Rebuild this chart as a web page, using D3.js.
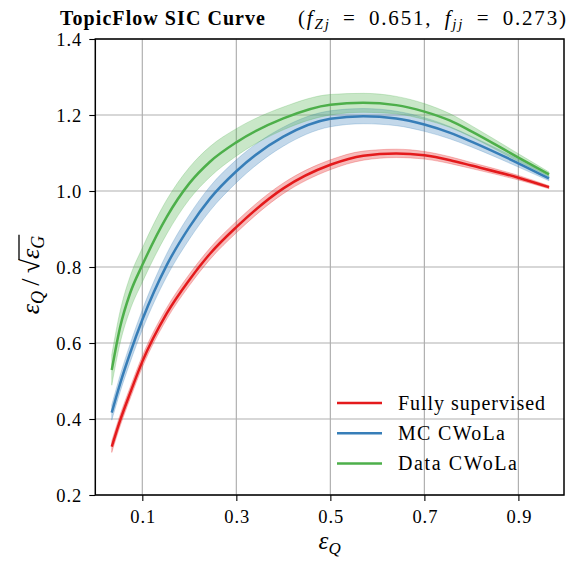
<!DOCTYPE html>
<html>
<head>
<meta charset="utf-8">
<script src="https://cdn.jsdelivr.net/npm/d3@7"></script>
<style>
  body { margin: 0; background: #fff; }
</style>
</head>
<body>
<div id="chart"></div>
<script>
// efficiency points
const effQ = [0.035, 0.053, 0.074, 0.1, 0.152, 0.2, 0.244, 0.3, 0.4, 0.5, 0.57, 0.64, 0.7, 0.755, 0.8, 0.9, 0.965];

const fullySup = [0.327, 0.397, 0.468, 0.551, 0.678, 0.766, 0.835, 0.905, 1.007, 1.069, 1.093, 1.099, 1.094, 1.081, 1.067, 1.035, 1.010];
const fullySupErr = [0.015, 0.015, 0.015, 0.015, 0.015, 0.015, 0.015, 0.015, 0.014, 0.013, 0.012, 0.011, 0.010, 0.009, 0.008, 0.006, 0.004];

const mcCwola = [0.417, 0.494, 0.573, 0.661, 0.805, 0.905, 0.980, 1.052, 1.143, 1.190, 1.197, 1.191, 1.175, 1.153, 1.130, 1.073, 1.033];
const mcCwolaErr = [0.02, 0.022, 0.024, 0.026, 0.03, 0.032, 0.032, 0.03, 0.025, 0.021, 0.02, 0.019, 0.018, 0.016, 0.014, 0.01, 0.006];

const dataCwola = [0.529, 0.643, 0.731, 0.805, 0.932, 1.020, 1.077, 1.128, 1.191, 1.227, 1.232, 1.226, 1.209, 1.185, 1.157, 1.088, 1.044];
const dataCwolaErr = [0.04, 0.042, 0.044, 0.045, 0.045, 0.042, 0.04, 0.036, 0.03, 0.027, 0.025, 0.023, 0.021, 0.018, 0.015, 0.01, 0.006];

const seriesNames = ["Fully supervised", "MC CWoLa", "Data CWoLa"];
const legendWidths = [147, 107, 119];
const colors = ["#e41a1c", "#377eb8", "#4daf4a"];

const xTicks = [0.1, 0.3, 0.5, 0.7, 0.9];
const yTicks = [0.2, 0.4, 0.6, 0.8, 1.0, 1.2, 1.4];

const serif = "'Liberation Serif', 'Times New Roman', Times, serif";

const W = 569, H = 564;
const pl = 95.3, pr = 564, pt = 39, pb = 495; // plot box edges

const svg = d3.select("#chart").append("svg")
    .attr("width", W)
    .attr("height", H)
    .attr("font-family", serif);

const x = d3.scaleLinear().domain([0, 0.997]).range([pl, pr]);
const y = d3.scaleLinear().domain([0.2, 1.4]).range([pb, pt]);

// grid
svg.append("g")
    .selectAll("line")
    .data(xTicks)
    .enter().append("line")
    .attr("x1", d => x(d)).attr("x2", d => x(d))
    .attr("y1", pt).attr("y2", pb)
    .attr("stroke", "#b0b0b0").attr("stroke-width", 1.2);
svg.append("g")
    .selectAll("line")
    .data(yTicks)
    .enter().append("line")
    .attr("x1", pl).attr("x2", pr)
    .attr("y1", d => y(d)).attr("y2", d => y(d))
    .attr("stroke", "#b0b0b0").attr("stroke-width", 1.2);

const series = [
    {mean: fullySup, err: fullySupErr},
    {mean: mcCwola, err: mcCwolaErr},
    {mean: dataCwola, err: dataCwolaErr}
];

const area = d3.area()
    .x(d => x(d.x))
    .y0(d => y(d.m - d.e))
    .y1(d => y(d.m + d.e))
    .curve(d3.curveMonotoneX);

const line = d3.line()
    .x(d => x(d.x))
    .y(d => y(d.m))
    .curve(d3.curveMonotoneX);

series.forEach((s, i) => {
    const pts = effQ.map((v, j) => ({x: v, m: s.mean[j], e: s.err[j]}));
    svg.append("path")
        .datum(pts)
        .attr("d", area)
        .attr("fill", colors[i])
        .attr("fill-opacity", 0.3)
        .attr("stroke", colors[i])
        .attr("stroke-opacity", 0.25)
        .attr("stroke-width", 1);
});
series.forEach((s, i) => {
    const pts = effQ.map((v, j) => ({x: v, m: s.mean[j], e: s.err[j]}));
    svg.append("path")
        .datum(pts)
        .attr("d", line)
        .attr("fill", "none")
        .attr("stroke", colors[i])
        .attr("stroke-width", 2.5);
});

// axes
const xAxis = svg.append("g")
    .attr("transform", "translate(0," + pb + ")")
    .call(d3.axisBottom(x).tickValues(xTicks).tickFormat(d3.format(".1f")).tickSize(6).tickPadding(8));
const yAxis = svg.append("g")
    .attr("transform", "translate(" + pl + ",0)")
    .call(d3.axisLeft(y).tickValues(yTicks).tickFormat(d3.format(".1f")).tickSize(6).tickPadding(8));
[xAxis, yAxis].forEach(a => {
    a.attr("font-family", serif).attr("font-size", 18.5);
    a.select(".domain").remove();
    a.selectAll(".tick line").attr("stroke", "#000").attr("stroke-width", 1.1);
    a.selectAll(".tick text")
        .style("font-family", serif)
        .attr("textLength", 25)
        .attr("lengthAdjust", "spacing")
        .attr("fill", "#000");
});
yAxis.selectAll(".tick text").attr("dy", "0.34em");
xAxis.selectAll(".tick text").attr("dy", "0.78em");

// frame
svg.append("rect")
    .attr("x", pl).attr("y", pt)
    .attr("width", pr - pl).attr("height", pb - pt)
    .attr("fill", "none").attr("stroke", "#000").attr("stroke-width", 1.5);

// legend
const legend = svg.append("g");
seriesNames.forEach((n, i) => {
    const ly = 403 + i * 30.2;
    legend.append("line")
        .attr("x1", 337).attr("x2", 382)
        .attr("y1", ly).attr("y2", ly)
        .attr("stroke", colors[i]).attr("stroke-width", 2.5);
    legend.append("text")
        .attr("x", 398).attr("y", ly + 6.5)
        .style("font-family", serif)
        .style("font-size", "20px")
        .attr("textLength", legendWidths[i])
        .attr("lengthAdjust", "spacing")
        .text(n);
});

// titles
svg.append("text")
    .attr("x", 60).attr("y", 25)
    .style("font-family", serif)
    .style("font-size", "20px")
    .style("font-weight", "bold")
    .attr("textLength", 205)
    .attr("lengthAdjust", "spacing")
    .text("TopicFlow SIC Curve");

const rt = svg.append("text")
    .attr("x", 566).attr("y", 25)
    .attr("text-anchor", "end")
    .style("font-family", serif)
    .style("font-size", "21px");
rt.append("tspan").text("(");
rt.append("tspan").style("font-style", "italic").text("f");
rt.append("tspan").attr("dy", 4).style("font-size", "15px").style("font-style", "italic").text("Zj");
rt.append("tspan").attr("dy", -4).text("\u2002=\u20020.651,\u2002");
rt.append("tspan").style("font-style", "italic").text("f");
rt.append("tspan").attr("dy", 4).style("font-size", "15px").style("font-style", "italic").text("jj");
rt.append("tspan").attr("dy", -4).text("\u2002=\u20020.273)");
rt.attr("textLength", 268).attr("lengthAdjust", "spacing");

// x label
const xl = svg.append("text")
    .attr("x", (pl + pr) / 2).attr("y", 549)
    .attr("text-anchor", "middle")
    .style("font-family", serif)
    .style("font-size", "25px");
xl.append("tspan").style("font-style", "italic").text("ε");
xl.append("tspan").attr("dy", 5).style("font-size", "17px").style("font-style", "italic").text("Q");

// y label
const yl = svg.append("g")
    .attr("transform", "translate(39," + ((pt + pb) / 2 + 8) + ") rotate(-90)");
const ylt = yl.append("text")
    .attr("text-anchor", "middle")
    .style("font-family", serif)
    .style("font-size", "26px");
ylt.append("tspan").style("font-style", "italic").text("ε");
ylt.append("tspan").attr("dy", 5).style("font-size", "18px").style("font-style", "italic").text("Q");
ylt.append("tspan").attr("dy", -5).text("\u2009/\u2009√");
ylt.append("tspan").style("font-style", "italic").text("ε");
ylt.append("tspan").attr("dy", 5).style("font-size", "18px").style("font-style", "italic").text("G");

// overline for the square root
const bb = ylt.node().getBBox();
const sqrtIdx = ylt.text().indexOf("√");
const startX = ylt.node().getEndPositionOfChar(sqrtIdx).x;
yl.append("line")
    .attr("x1", startX - 1).attr("x2", bb.x + bb.width + 1)
    .attr("y1", bb.y + 3).attr("y2", bb.y + 3)
    .attr("stroke", "#000").attr("stroke-width", 1.3);
</script>
</body>
</html>
